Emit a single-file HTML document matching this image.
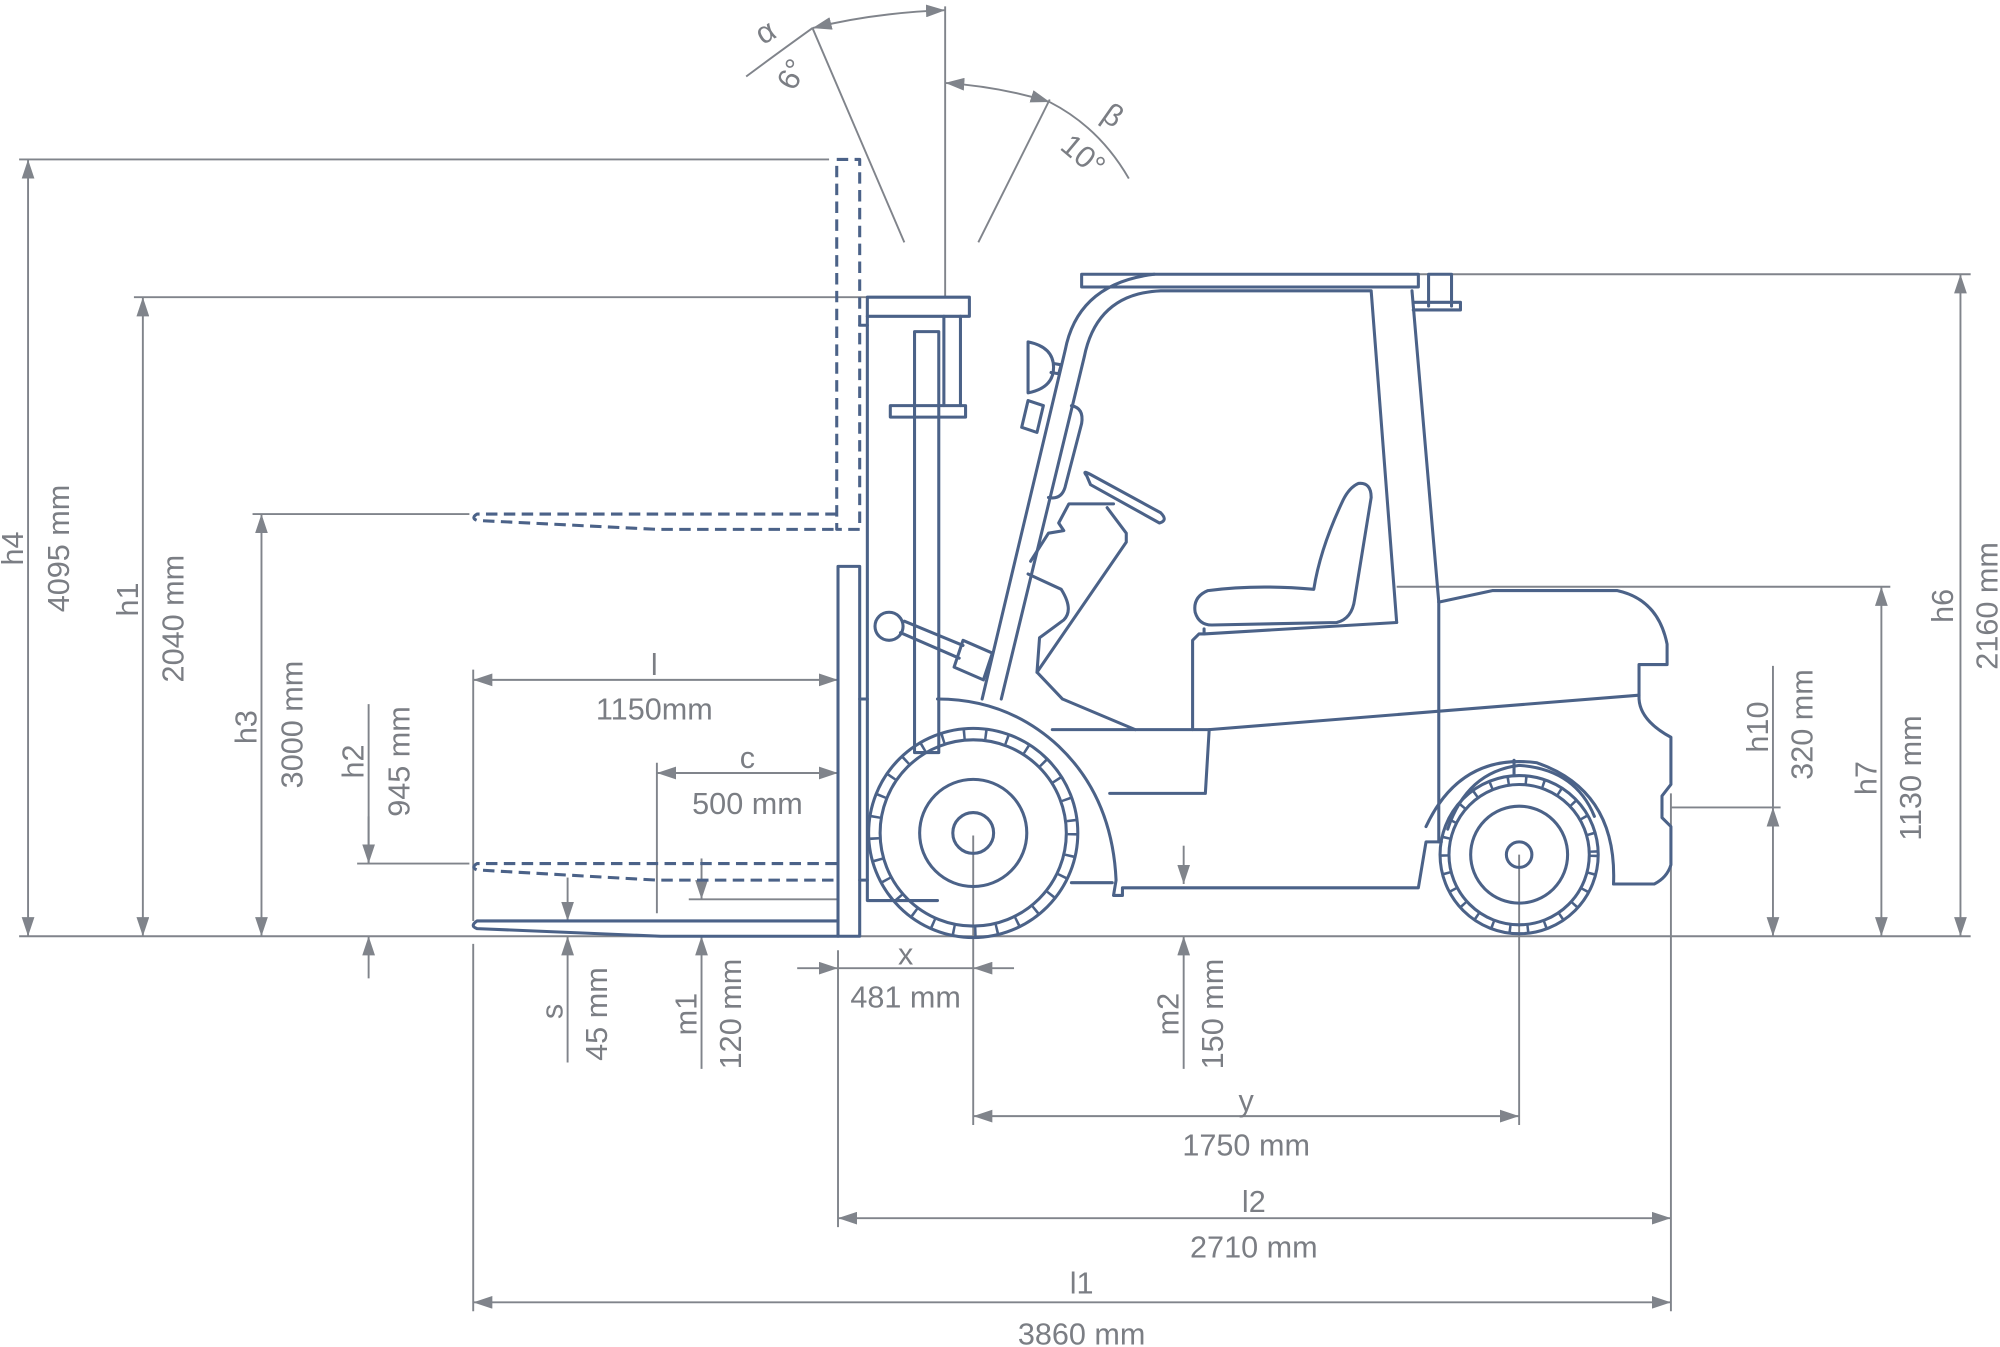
<!DOCTYPE html>
<html><head><meta charset="utf-8"><style>
html,body{margin:0;padding:0;background:#fff;}
svg{display:block}
text{font-family:"Liberation Sans Narrow","Liberation Sans",sans-serif;fill:#7b7e84;font-size:24px;text-anchor:middle;}
.d{stroke:#80848b;stroke-width:1.5;fill:none}
.b{stroke:#4b6288;stroke-width:2.4;fill:none;stroke-linejoin:round;stroke-linecap:round}
.dash{stroke-dasharray:9 5;stroke-linecap:butt}
.tr{stroke-linecap:butt}
</style></head><body>
<svg width="2000" height="1347" viewBox="0 0 1568 1056" preserveAspectRatio="none" xmlns="http://www.w3.org/2000/svg">
<defs>
<marker id="a" markerUnits="userSpaceOnUse" markerWidth="16" markerHeight="10" refX="15" refY="5" orient="auto-start-reverse"><path d="M0,0 L15,5 L0,10 z" fill="#80848b"/></marker>
</defs>

<g class="d">
<line x1="15" y1="734" x2="1545" y2="734"/>
<line x1="15" y1="125" x2="650" y2="125"/>
<line x1="105" y1="233" x2="680" y2="233"/>
<line x1="198" y1="403" x2="368" y2="403"/>
<line x1="280" y1="677" x2="368" y2="677"/>
<line x1="540" y1="705" x2="657" y2="705"/>
<line x1="371" y1="525" x2="371" y2="722"/>
<line x1="371" y1="740" x2="371" y2="1028"/>
<line x1="515" y1="598" x2="515" y2="716"/>
<line x1="657" y1="745" x2="657" y2="962"/>
<line x1="763" y1="655" x2="763" y2="882"/>
<line x1="1191" y1="670" x2="1191" y2="882"/>
<line x1="1310" y1="622" x2="1310" y2="1028"/>
<line x1="1310" y1="633" x2="1396" y2="633"/>
<line x1="1095" y1="460" x2="1482" y2="460"/>
<line x1="1112" y1="215" x2="1545" y2="215"/>
<line x1="741" y1="5" x2="741" y2="233"/>
<line x1="637" y1="22" x2="709" y2="190"/>
<line x1="823" y1="78" x2="767" y2="190"/>
<line x1="289" y1="552" x2="289" y2="677"/>
<line x1="1390" y1="522" x2="1390" y2="633"/>
</g>
<g class="d">
<line x1="22" y1="734" x2="22" y2="125" marker-start="url(#a)" marker-end="url(#a)"/>
<line x1="112" y1="734" x2="112" y2="233" marker-start="url(#a)" marker-end="url(#a)"/>
<line x1="205" y1="734" x2="205" y2="403" marker-start="url(#a)" marker-end="url(#a)"/>
<line x1="289" y1="640" x2="289" y2="677" marker-end="url(#a)"/>
<line x1="289" y1="767" x2="289" y2="734" marker-end="url(#a)"/>
<line x1="371" y1="533" x2="657" y2="533" marker-start="url(#a)" marker-end="url(#a)"/>
<line x1="515" y1="606" x2="657" y2="606" marker-start="url(#a)" marker-end="url(#a)"/>
<line x1="445" y1="688" x2="445" y2="722" marker-end="url(#a)"/>
<line x1="445" y1="833" x2="445" y2="734" marker-end="url(#a)"/>
<line x1="550" y1="673" x2="550" y2="705" marker-end="url(#a)"/>
<line x1="550" y1="838" x2="550" y2="734" marker-end="url(#a)"/>
<line x1="625" y1="759" x2="657" y2="759" marker-end="url(#a)"/>
<line x1="657" y1="759" x2="763" y2="759"/>
<line x1="795" y1="759" x2="763" y2="759" marker-end="url(#a)"/>
<line x1="928" y1="663" x2="928" y2="693" marker-end="url(#a)"/>
<line x1="928" y1="838" x2="928" y2="734" marker-end="url(#a)"/>
<line x1="763" y1="875" x2="1191" y2="875" marker-start="url(#a)" marker-end="url(#a)"/>
<line x1="657" y1="955" x2="1310" y2="955" marker-start="url(#a)" marker-end="url(#a)"/>
<line x1="371" y1="1021" x2="1310" y2="1021" marker-start="url(#a)" marker-end="url(#a)"/>
<line x1="1390" y1="633" x2="1390" y2="734" marker-start="url(#a)" marker-end="url(#a)"/>
<line x1="1475" y1="460" x2="1475" y2="734" marker-start="url(#a)" marker-end="url(#a)"/>
<line x1="1537" y1="215" x2="1537" y2="734" marker-start="url(#a)" marker-end="url(#a)"/>
<path d="M585,60 Q605,45 637,22"/>
<path d="M637,22 Q685,10 741,8" marker-start="url(#a)" marker-end="url(#a)"/>
<path d="M741,65 Q785,68 823,80" marker-start="url(#a)" marker-end="url(#a)"/>
<path d="M823,80 Q862,100 885,140"/>
</g>

<text transform="translate(18,430) rotate(-90)">h4</text>
<text transform="translate(54,430) rotate(-90)">4095 mm</text>
<text transform="translate(108,470) rotate(-90)">h1</text>
<text transform="translate(144,485) rotate(-90)">2040 mm</text>
<text transform="translate(201,570) rotate(-90)">h3</text>
<text transform="translate(237,568) rotate(-90)">3000 mm</text>
<text transform="translate(285,597) rotate(-90)">h2</text>
<text transform="translate(321,597) rotate(-90)">945 mm</text>
<text x="513" y="529">l</text>
<text x="513" y="564">1150mm</text>
<text x="586" y="602">c</text>
<text x="586" y="638">500 mm</text>
<text transform="translate(441,793) rotate(-90)">s</text>
<text transform="translate(476,795) rotate(-90)">45 mm</text>
<text transform="translate(546,795) rotate(-90)">m1</text>
<text transform="translate(581,795) rotate(-90)">120 mm</text>
<text x="710" y="756">x</text>
<text x="710" y="790">481 mm</text>
<text transform="translate(924,795) rotate(-90)">m2</text>
<text transform="translate(959,795) rotate(-90)">150 mm</text>
<text x="977" y="871">y</text>
<text x="977" y="906">1750 mm</text>
<text x="983" y="950">l2</text>
<text x="983" y="986">2710 mm</text>
<text x="848" y="1014">l1</text>
<text x="848" y="1054">3860 mm</text>
<text transform="translate(1386,570) rotate(-90)">h10</text>
<text transform="translate(1421,568) rotate(-90)">320 mm</text>
<text transform="translate(1471,610) rotate(-90)">h7</text>
<text transform="translate(1506,610) rotate(-90)">1130 mm</text>
<text transform="translate(1531,475) rotate(-90)">h6</text>
<text transform="translate(1566,475) rotate(-90)">2160 mm</text>
<text transform="translate(604,32) rotate(-30)">α</text>
<text transform="translate(628,62) rotate(-62)">6°</text>
<text transform="translate(868,97) rotate(35)">β</text>
<text transform="translate(844,128) rotate(40)">10°</text>

<g class="b dash">
<rect x="656" y="125" width="18" height="290"/>
<path d="M656,403 L374,403 Q369,406 374,408 L515,415 L656,415"/>
<path d="M656,677 L374,677 Q369,680 374,682 L515,690 L656,690"/>
</g>
<g class="b">
<rect x="657" y="444" width="17" height="290"/>
<path d="M657,722 L374,722 Q368,726 374,728 L518,734 L657,734"/>
<rect x="680" y="233" width="80" height="15"/>
<path d="M680,248 L680,706 L735,706"/>
<path d="M674,255 L680,255 M674,548 L680,548 M674,690 L680,690"/>
<rect x="717" y="260" width="19" height="330"/>
<line x1="740" y1="248" x2="740" y2="318"/>
<line x1="753" y1="248" x2="753" y2="318"/>
<rect x="698" y="318" width="59" height="9"/>
<circle cx="697" cy="491" r="11"/>
<path d="M706,496 L752,516 M709,487 L755,506"/>
<path d="M755,502 L778,512 L771,533 L748,523 Z"/>
<rect x="848" y="215" width="264" height="10"/>
<path d="M770,548 L835,275 Q845,222 905,215"/>
<path d="M785,548 L850,280 Q860,230 910,228 L1075,228 L1095,488"/>
<path d="M1107,228 L1128,472"/>
<path d="M1120,240 L1120,215 L1138,215 L1138,240 M1108,237 L1145,237 L1145,243 L1108,243"/>
<path d="M806,268 Q826,272 826,288 Q826,304 806,308 Z"/>
<path d="M826,285 L832,286 L830,293 L824,292"/>
<path d="M806,314 L818,318 L813,339 L801,335 Z"/>
<path d="M840,318 Q850,320 848,332 L835,382 Q832,392 822,390"/>
<path d="M852,373 Q848,368 855,372 L910,402 Q916,408 909,410 L855,380 Z" />
<path d="M873,395 L838,395 L830,410 L834,416 L822,418 L808,440"/>
<path d="M868,398 L883,418 L883,425 L813,527 L833,548 L890,572"/>
<path d="M806,450 L832,462 Q842,478 834,486 L815,500 L813,527"/>
<path d="M1030,462 Q985,458 947,463 Q935,468 937,480 Q940,490 950,490 L1048,488 Q1060,485 1062,470 L1075,390 Q1075,378 1065,379 Q1058,382 1053,392 Q1035,430 1030,462 Z"/>
<path d="M944,493 L944,497 L940,497 L935,502 L935,572"/>
<path d="M944,497 L1095,488"/>
<path d="M1128,472 L1170,463 L1268,463 Q1300,470 1307,505 L1307,521 L1285,521 L1285,548 Q1286,565 1310,578 L1310,615 L1303,624 L1303,641 L1310,648 L1310,678 Q1307,688 1297,693 L1265,693"/>
<path d="M1128,472 L1128,660"/>
<path d="M825,572 L948,572 L1285,545"/>
<path d="M948,572 L945,622 L870,622"/>
<path d="M735,548 Q790,548 830,585 Q872,625 875,690 L873,702 L880,702 L880,696 L1112,696 L1118,660 L1130,660"/>
<path d="M840,692 L872,692"/>
<path d="M1265,693 Q1268,620 1205,598 Q1145,590 1118,648"/>
<circle cx="763" cy="653" r="82"/>
<circle cx="763" cy="653" r="73"/>
<circle class="tr" cx="763" cy="653" r="77.5" stroke-width="7" stroke-dasharray="2 15"/>
<circle cx="763" cy="653" r="42"/>
<circle cx="763" cy="653" r="16"/>
<circle cx="1191" cy="670" r="62"/>
<circle cx="1191" cy="670" r="55"/>
<circle class="tr" cx="1191" cy="670" r="58.5" stroke-width="6" stroke-dasharray="2 12"/>
<circle cx="1191" cy="670" r="38"/>
<circle cx="1191" cy="670" r="10"/>
<path d="M1135,650 Q1150,605 1191,600 Q1235,603 1250,640"/>
<line x1="1187" y1="596" x2="1187" y2="607"/>
</g>
</svg>
</body></html>
